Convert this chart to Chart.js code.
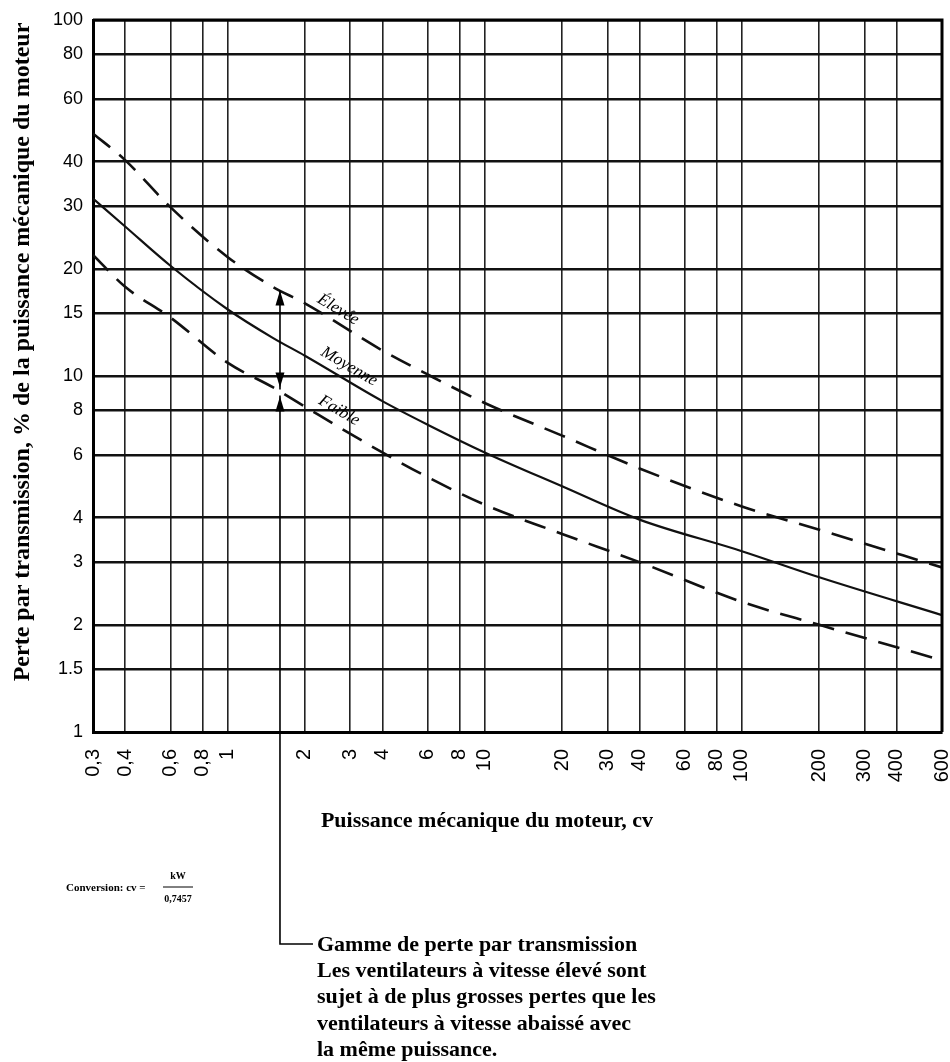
<!DOCTYPE html>
<html>
<head>
<meta charset="utf-8">
<script src="https://cdn.jsdelivr.net/npm/chart.js@4.4.1/dist/chart.umd.min.js"></script>
<style>
 html, body { margin: 0; padding: 0; background: #fff; }
 #wrap { width: 950px; height: 1062px; }
</style>
</head>
<body>
<div id="wrap"><canvas id="lossChart" width="950" height="1062"></canvas></div>
<script>
// axes
const xTicks = [0.3, 0.4, 0.6, 0.8, 1, 2, 3, 4, 6, 8, 10, 20, 30, 40, 60, 80, 100, 200, 300, 400, 600];
const xTickLabels = ["0,3", "0,4", "0,6", "0,8", "1", "2", "3", "4", "6", "8", "10", "20", "30", "40", "60", "80", "100", "200", "300", "400", "600"];
const yTicks = [1, 1.5, 2, 3, 4, 6, 8, 10, 15, 20, 30, 40, 60, 80, 100];
const yTickLabels = ["1", "1.5", "2", "3", "4", "6", "8", "10", "15", "20", "30", "40", "60", "80", "100"];

// puissance (cv) et pertes (%)
const power = [0.3, 0.4, 0.6, 1, 1.5, 2, 4, 6, 10, 20, 40, 100, 200, 600];
const lossHigh = [48, 40.4, 29.8, 21.6, 17.8, 16.0, 11.8, 10.1, 8.4, 6.8, 5.5, 4.3, 3.7, 2.9];
const lossMid = [31.5, 26.3, 20.4, 15.4, 12.8, 11.4, 8.5, 7.3, 6.1, 4.9, 3.95, 3.22, 2.72, 2.13];
const lossLow = [21.9, 17.8, 14.6, 10.9, 9.3, 8.2, 6.1, 5.2, 4.35, 3.6, 3.0, 2.32, 2.0, 1.59];

const curveNames = ["Élevée", "Moyenne", "Faible"];
const rangeAt = 1.6; // position of the double arrow (cv)

const SERIF = '"Liberation Serif", "DejaVu Serif", serif';
const SANS = '"Liberation Sans", Arial, sans-serif';

// value of a curve at x, linear in log-log between read points
function curveAt(ys, x) {
 const lx = Math.log10(x);
 for (let i = 0; i < power.length - 1; i++) {
  const a = Math.log10(power[i]), b = Math.log10(power[i + 1]);
  if (lx >= a && lx <= b) {
   const t = (lx - a) / (b - a);
   return Math.pow(10, Math.log10(ys[i]) + t * (Math.log10(ys[i + 1]) - Math.log10(ys[i])));
  }
 }
 return ys[ys.length - 1];
}

function arrowHead(ctx, x, y, dir) {
 // dir = -1 points up, 1 points down
 ctx.beginPath();
 ctx.moveTo(x, y);
 ctx.lineTo(x - 4.5, y - dir * 15);
 ctx.lineTo(x + 4.5, y - dir * 15);
 ctx.closePath();
 ctx.fill();
}

const decor = {
 id: "decor",
 afterDraw(chart) {
  const { ctx, chartArea: area, scales } = chart;
  const sx = scales.x, sy = scales.y;
  ctx.save();
  ctx.fillStyle = "#000";
  ctx.strokeStyle = "#000";

  // frame top / right
  ctx.lineWidth = 3;
  ctx.beginPath();
  ctx.moveTo(area.left, area.top);
  ctx.lineTo(area.right, area.top);
  ctx.lineTo(area.right, area.bottom);
  ctx.stroke();

  // curve names along the lines
  const series = [lossHigh, lossMid, lossLow];
  const labelAt = [2.55, 2.8, 2.55];
  const lift = [12, 13, 14];
  series.forEach((ys, i) => {
   const x0 = labelAt[i];
   const px = sx.getPixelForValue(x0);
   const py = sy.getPixelForValue(curveAt(ys, x0));
   const qx = sx.getPixelForValue(x0 * 1.3);
   const qy = sy.getPixelForValue(curveAt(ys, x0 * 1.3));
   const ang = Math.atan2(qy - py, qx - px);
   ctx.save();
   ctx.translate(px + Math.sin(ang) * lift[i], py - Math.cos(ang) * lift[i]);
   ctx.rotate(ang);
   ctx.font = "italic 17px " + SERIF;
   ctx.textAlign = "center";
   ctx.textBaseline = "middle";
   ctx.fillText(curveNames[i], 0, 0);
   ctx.restore();
  });

  // range arrows and leader
  const ax = sx.getPixelForValue(rangeAt);
  const yTop = sy.getPixelForValue(curveAt(lossHigh, rangeAt));
  const yLow = sy.getPixelForValue(curveAt(lossLow, rangeAt));
  const corner = 944;
  ctx.lineWidth = 1.6;
  ctx.beginPath();
  ctx.moveTo(ax, yTop);
  ctx.lineTo(ax, yLow - 2);
  ctx.moveTo(ax, yLow + 4);
  ctx.lineTo(ax, corner);
  ctx.lineTo(ax + 33, corner);
  ctx.stroke();
  arrowHead(ctx, ax, yTop, -1);
  arrowHead(ctx, ax, yLow - 4, 1);
  arrowHead(ctx, ax, yLow + 5, -1);

  // axis titles
  ctx.textAlign = "center";
  ctx.textBaseline = "middle";
  ctx.font = "bold 24px " + SERIF;
  ctx.save();
  ctx.translate(23, 352);
  ctx.rotate(-Math.PI / 2);
  ctx.fillText("Perte par transmission, % de la puissance mécanique du moteur", 0, 0);
  ctx.restore();
  ctx.font = "bold 22px " + SERIF;
  ctx.fillText("Puissance mécanique du moteur, cv", 487, 821);

  // conversion note
  ctx.font = "bold 11px " + SERIF;
  ctx.textAlign = "left";
  ctx.fillText("Conversion: cv =", 66, 888);
  ctx.textAlign = "center";
  ctx.font = "bold 10px " + SERIF;
  ctx.fillText("kW", 178, 876);
  ctx.fillText("0,7457", 178, 899);
  ctx.lineWidth = 1;
  ctx.beginPath();
  ctx.moveTo(163, 887);
  ctx.lineTo(193, 887);
  ctx.stroke();

  // callout text
  const lines = [
   "Gamme de perte par transmission",
   "Les ventilateurs à vitesse élevé sont",
   "sujet à de plus grosses pertes que les",
   "ventilateurs à vitesse abaissé avec",
   "la même puissance.",
  ];
  ctx.font = "bold 22px " + SERIF;
  ctx.textAlign = "left";
  lines.forEach((t, i) => ctx.fillText(t, 317, corner + 1 + i * 26.3));
  ctx.restore();
 },
};

const lineStyle = (dashed) => ({
 showLine: true,
 borderColor: "#111",
 borderWidth: dashed ? 2.6 : 2.2,
 borderDash: dashed ? [22, 12] : [],
 pointRadius: 0,
 tension: 0.4,
 cubicInterpolationMode: "monotone",
 fill: false,
});

new Chart(document.getElementById("lossChart"), {
 type: "scatter",
 data: {
  datasets: [
   { label: curveNames[0], data: power.map((x, i) => ({ x, y: lossHigh[i] })), ...lineStyle(true) },
   { label: curveNames[1], data: power.map((x, i) => ({ x, y: lossMid[i] })), ...lineStyle(false) },
   { label: curveNames[2], data: power.map((x, i) => ({ x, y: lossLow[i] })), ...lineStyle(true) },
  ],
 },
 options: {
  responsive: false,
  animation: false,
  layout: { padding: { top: 20, right: 8, left: 0, bottom: 0 } },
  plugins: { legend: { display: false }, tooltip: { enabled: false } },
  scales: {
   x: {
    type: "logarithmic",
    min: 0.3,
    max: 600,
    afterBuildTicks: (s) => { s.ticks = xTicks.map((v) => ({ value: v })); },
    afterFit: (s) => { s.height = 330; s.paddingLeft = 0; s.paddingRight = 0; },
    ticks: {
     autoSkip: false,
     minRotation: 90,
     maxRotation: 90,
     padding: 17,
     color: "#000",
     font: { family: SANS, size: 20 },
     callback: (v, i) => xTickLabels[i],
    },
    grid: { color: "#222", lineWidth: 1.6, drawTicks: false },
    border: { color: "#000", width: 3 },
   },
   y: {
    type: "logarithmic",
    min: 1,
    max: 100,
    afterBuildTicks: (s) => { s.ticks = yTicks.map((v) => ({ value: v })); },
    afterFit: (s) => { s.width = 93; s.paddingTop = 0; s.paddingBottom = 0; },
    ticks: {
     autoSkip: false,
     padding: 10,
     color: "#000",
     font: { family: SANS, size: 18 },
     callback: (v, i) => yTickLabels[i],
    },
    grid: { color: "#111", lineWidth: 2.4, drawTicks: false },
    border: { color: "#000", width: 3 },
   },
  },
 },
 plugins: [decor],
});
</script>
</body>
</html>
